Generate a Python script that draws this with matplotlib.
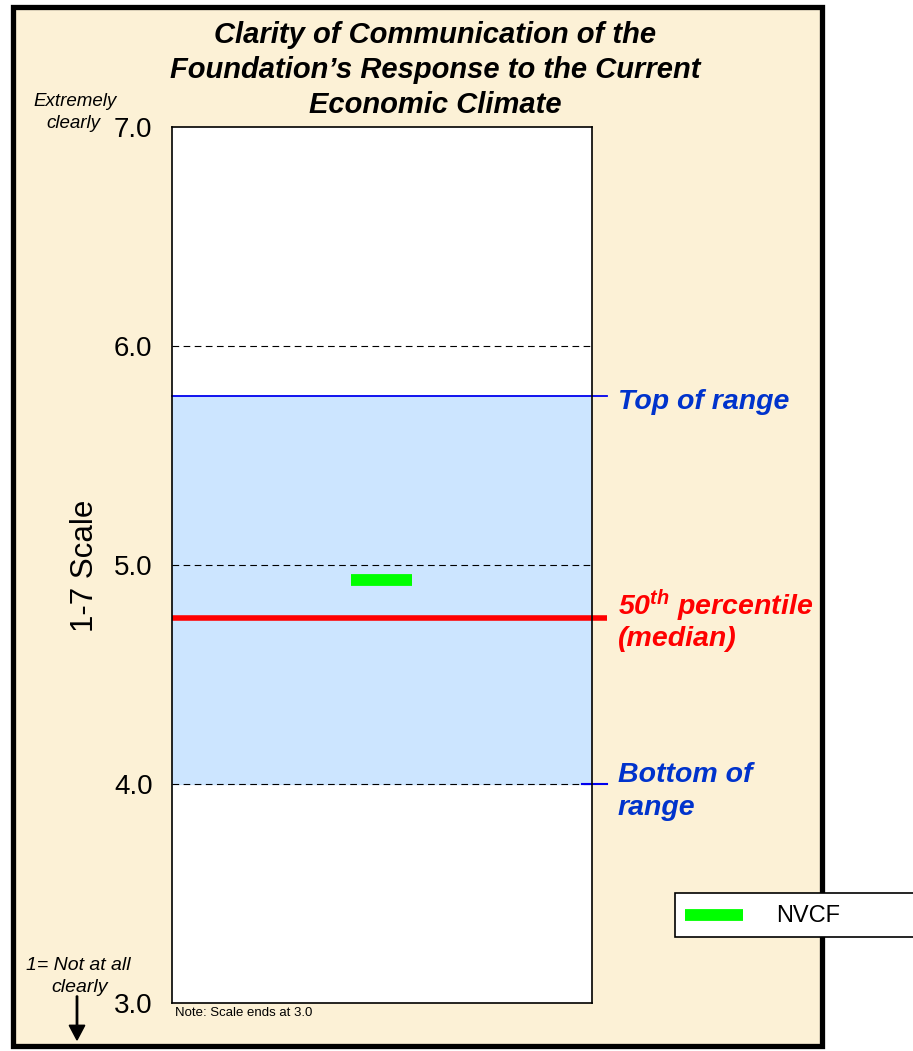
import matplotlib.pyplot as plt
from matplotlib.patches import Rectangle, FancyArrow
from matplotlib.lines import Line2D

plt.rcParams['font.family'] = ['Liberation Sans', 'DejaVu Sans']
plt.rcParams['mathtext.fontset'] = 'custom'
plt.rcParams['mathtext.it'] = 'Liberation Sans:bold:italic'
plt.rcParams['mathtext.rm'] = 'Liberation Sans:bold:italic'

# values
yticks = [3.0, 4.0, 5.0, 6.0, 7.0]
grid_levels = [4.0, 5.0, 6.0]
range_bottom = 4.0
range_top = 5.77
median = 4.76
nvcf_score = 4.93
series_name = "NVCF"
title = "Clarity of Communication of the\nFoundation\u2019s Response to the Current\nEconomic Climate"

W, H = 913, 1051
fig = plt.figure(figsize=(W / 100, H / 100), dpi=100)
fig.patch.set_facecolor("white")


def px(x, y):
    return x / W, 1 - y / H


# beige panel behind everything
panel = Rectangle(px(13, 1046), (822 - 13) / W, (1046 - 7) / H,
                  transform=fig.transFigure, facecolor="#FCF1D6",
                  edgecolor="black", linewidth=3.8, zorder=-5)
fig.patches.append(panel)

ax = fig.add_axes([172 / W, 1 - 1003 / H, 420 / W, 876 / H])
ax.set_zorder(1)
ax.set_facecolor("white")
ax.set_xlim(0, 1)
ax.set_ylim(3.0, 7.0)
ax.set_xticks([])
ax.set_yticks(yticks)
ax.set_yticklabels([f"{v:.1f}" for v in yticks], fontsize=20)
ax.tick_params(axis="y", length=0, pad=14)
for s in ax.spines.values():
    s.set_linewidth(1.2)
    s.set_color("black")
    s.set_zorder(5)

ytr = ax.get_yaxis_transform()

# range band
ax.axhspan(range_bottom, range_top, color="#CCE5FF", zorder=1)
for g in grid_levels:
    ax.axhline(g, color="black", lw=0.8, ls=(0, (6, 4)), zorder=2)

ax.plot([0, 1.036], [range_top, range_top], color="#0000EE", lw=1.3,
        transform=ytr, clip_on=False, zorder=3)
ax.plot([0.975, 1.036], [range_bottom, range_bottom], color="#0000EE", lw=1.5,
        transform=ytr, clip_on=False, zorder=3)
ax.plot([0, 1.036], [median, median], color="#FF0000", lw=4,
        solid_capstyle="butt", transform=ytr, clip_on=False, zorder=3)

# NVCF marker
ax.plot([0.426, 0.571], [nvcf_score, nvcf_score], color="#00FF00", lw=8.5,
        solid_capstyle="butt", zorder=4)

# annotations on the right
lab = dict(fontsize=20.5, fontweight="bold", fontstyle="italic",
           transform=fig.transFigure, va="center", ha="left", zorder=3)
fig.text(*px(618, 402), "Top of range", color="#0033CC", **lab)
fig.text(*px(618, 606), "50$^{th}$ percentile", color="#FF0000", **lab)
fig.text(*px(618, 639), "(median)", color="#FF0000", **lab)
fig.text(*px(618, 775), "Bottom of", color="#0033CC", **lab)
fig.text(*px(618, 808), "range", color="#0033CC", **lab)

# title
fig.text(*px(435, 70), title, fontsize=21, fontweight="bold",
         fontstyle="italic", ha="center", va="center", linespacing=1.3,
         zorder=3)

# left-hand labels
sm = dict(fontsize=13.5, fontstyle="italic", ha="center", va="center",
          transform=fig.transFigure, zorder=3)
fig.text(*px(85, 566), "1-7 Scale", fontsize=22.5, rotation=90,
         ha="center", va="center", zorder=3)
fig.text(*px(75, 101), "Extremely", **sm)
fig.text(*px(73, 123), "clearly", **sm)
fig.text(*px(78, 966), "1= Not at all", fontsize=14, fontstyle="italic",
         ha="center", va="center", zorder=3)
fig.text(*px(80, 988), "clearly", fontsize=14, fontstyle="italic",
         ha="center", va="center", zorder=3)
fig.text(*px(175, 1013), "Note: Scale ends at 3.0", fontsize=9.5,
         ha="left", va="center", zorder=3)
fig.patches.append(
    FancyArrow(*px(77, 996), 0, -44 / H, width=0.0015,
               head_width=0.017, head_length=0.014, color="black",
               length_includes_head=True, transform=fig.transFigure,
               zorder=3))

# legend box
fig.patches.append(Rectangle(px(675, 937), 240 / W, 44 / H,
                             transform=fig.transFigure, facecolor="white",
                             edgecolor="black", lw=1.2, zorder=6))
fig.lines.append(Line2D([685 / W, 743 / W], [1 - 915 / H, 1 - 915 / H],
                        transform=fig.transFigure, color="#00FF00", lw=8.5,
                        solid_capstyle="butt", zorder=7))
fig.text(*px(776, 916), series_name, fontsize=17, ha="left",
         va="center", zorder=7)

fig.savefig("out.png", dpi=100)
